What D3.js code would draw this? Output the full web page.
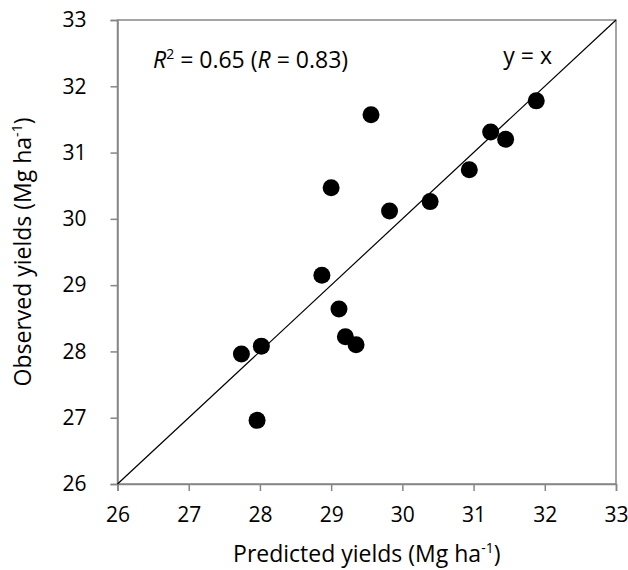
<!DOCTYPE html>
<html>
<head>
<meta charset="utf-8">
<script src="https://cdn.jsdelivr.net/npm/d3@7"></script>
<style>
    body { margin: 0; background: #fff; }
    text { font-family: "Open Sans", sans-serif; fill: #000; }
</style>
</head>
<body>
<div id="chart"></div>
<script>
// Predicted vs observed yields (Mg ha-1)
var predicted = [29.56, 29.00, 29.82, 30.39, 30.94, 31.24, 31.45, 31.88,
                 28.87, 29.11, 29.20, 29.35, 27.74, 28.02, 27.96];
var observed  = [31.57, 30.47, 30.12, 30.26, 30.74, 31.31, 31.20, 31.78,
                 29.15, 28.64, 28.22, 28.10, 27.96, 28.08, 26.96];
var xTicks = [26, 27, 28, 29, 30, 31, 32, 33];
var yTicks = [26, 27, 28, 29, 30, 31, 32, 33];
var axisDomain = [26, 33];

var width = 628, height = 570;
var margin = { top: 20, right: 12, bottom: 86, left: 117.5 };
var fontSize = "23px";
var tickFontSize = "21px";
var supSize = "14px";

var svg = d3.select("#chart").append("svg")
    .attr("width", width)
    .attr("height", height);

var x = d3.scaleLinear().domain(axisDomain)
    .range([margin.left, width - margin.right]);
var y = d3.scaleLinear().domain(axisDomain)
    .range([height - margin.bottom, margin.top]);

var axisColor = "#868686";

// Plot box (top and right edges)
svg.append("rect")
    .attr("x", x(26))
    .attr("y", y(33))
    .attr("width", x(33) - x(26))
    .attr("height", y(26) - y(33))
    .attr("fill", "none")
    .attr("stroke", axisColor)
    .attr("stroke-width", 1.5);

// Axes
var xAxis = svg.append("g")
    .attr("transform", "translate(0," + y(26) + ")")
    .call(d3.axisBottom(x).tickValues(xTicks).tickSize(7).tickPadding(16).tickFormat(d3.format("d")));
var yAxis = svg.append("g")
    .attr("transform", "translate(" + x(26) + ",0)")
    .call(d3.axisLeft(y).tickValues(yTicks).tickSize(7).tickPadding(24).tickFormat(d3.format("d")));

[xAxis, yAxis].forEach(function (a) {
    a.select(".domain").attr("stroke", axisColor).attr("stroke-width", 1.5);
    a.selectAll(".tick line").attr("stroke", axisColor).attr("stroke-width", 1.5);
    a.selectAll(".tick text")
        .style("font-family", "'Open Sans', sans-serif")
        .style("font-size", tickFontSize)
        .attr("fill", "#000");
});

// 1:1 line
svg.append("line")
    .attr("x1", x(26)).attr("y1", y(26))
    .attr("x2", x(33)).attr("y2", y(33))
    .attr("stroke", "#000")
    .attr("stroke-width", 1.2);

// Points
svg.selectAll(".pt")
    .data(predicted.map(function (p, i) { return [p, observed[i]]; }))
    .enter()
    .append("circle")
    .attr("class", "pt")
    .attr("cx", function (d) { return x(d[0]); })
    .attr("cy", function (d) { return y(d[1]); })
    .attr("r", 8.5)
    .attr("fill", "#000");

// Annotations
var r2 = svg.append("text")
    .attr("x", 153)
    .attr("y", 68)
    .style("font-size", fontSize);
r2.append("tspan").style("font-style", "italic").text("R");
r2.append("tspan").attr("dy", -9).style("font-size", supSize).text("2");
r2.append("tspan").attr("dy", 9).text(" = 0.65 (");
r2.append("tspan").style("font-style", "italic").text("R");
r2.append("tspan").text(" = 0.83)");

svg.append("text")
    .attr("x", 552)
    .attr("y", 64)
    .attr("text-anchor", "end")
    .style("font-size", fontSize)
    .text("y = x");

// Axis titles
var xTitle = svg.append("text")
    .attr("x", (x(26) + x(33)) / 2)
    .attr("y", 562)
    .attr("text-anchor", "middle")
    .style("font-size", fontSize);
xTitle.append("tspan").text("Predicted yields (Mg ha");
xTitle.append("tspan").attr("dy", -9).style("font-size", supSize).text("-1");
xTitle.append("tspan").attr("dy", 9).text(")");

var yTitle = svg.append("text")
    .attr("transform", "translate(31," + (y(26) + y(33)) / 2 + ") rotate(-90)")
    .attr("text-anchor", "middle")
    .style("font-size", fontSize);
yTitle.append("tspan").text("Observed yields (Mg ha");
yTitle.append("tspan").attr("dy", -9).style("font-size", supSize).text("-1");
yTitle.append("tspan").attr("dy", 9).text(")");
</script>
</body>
</html>
